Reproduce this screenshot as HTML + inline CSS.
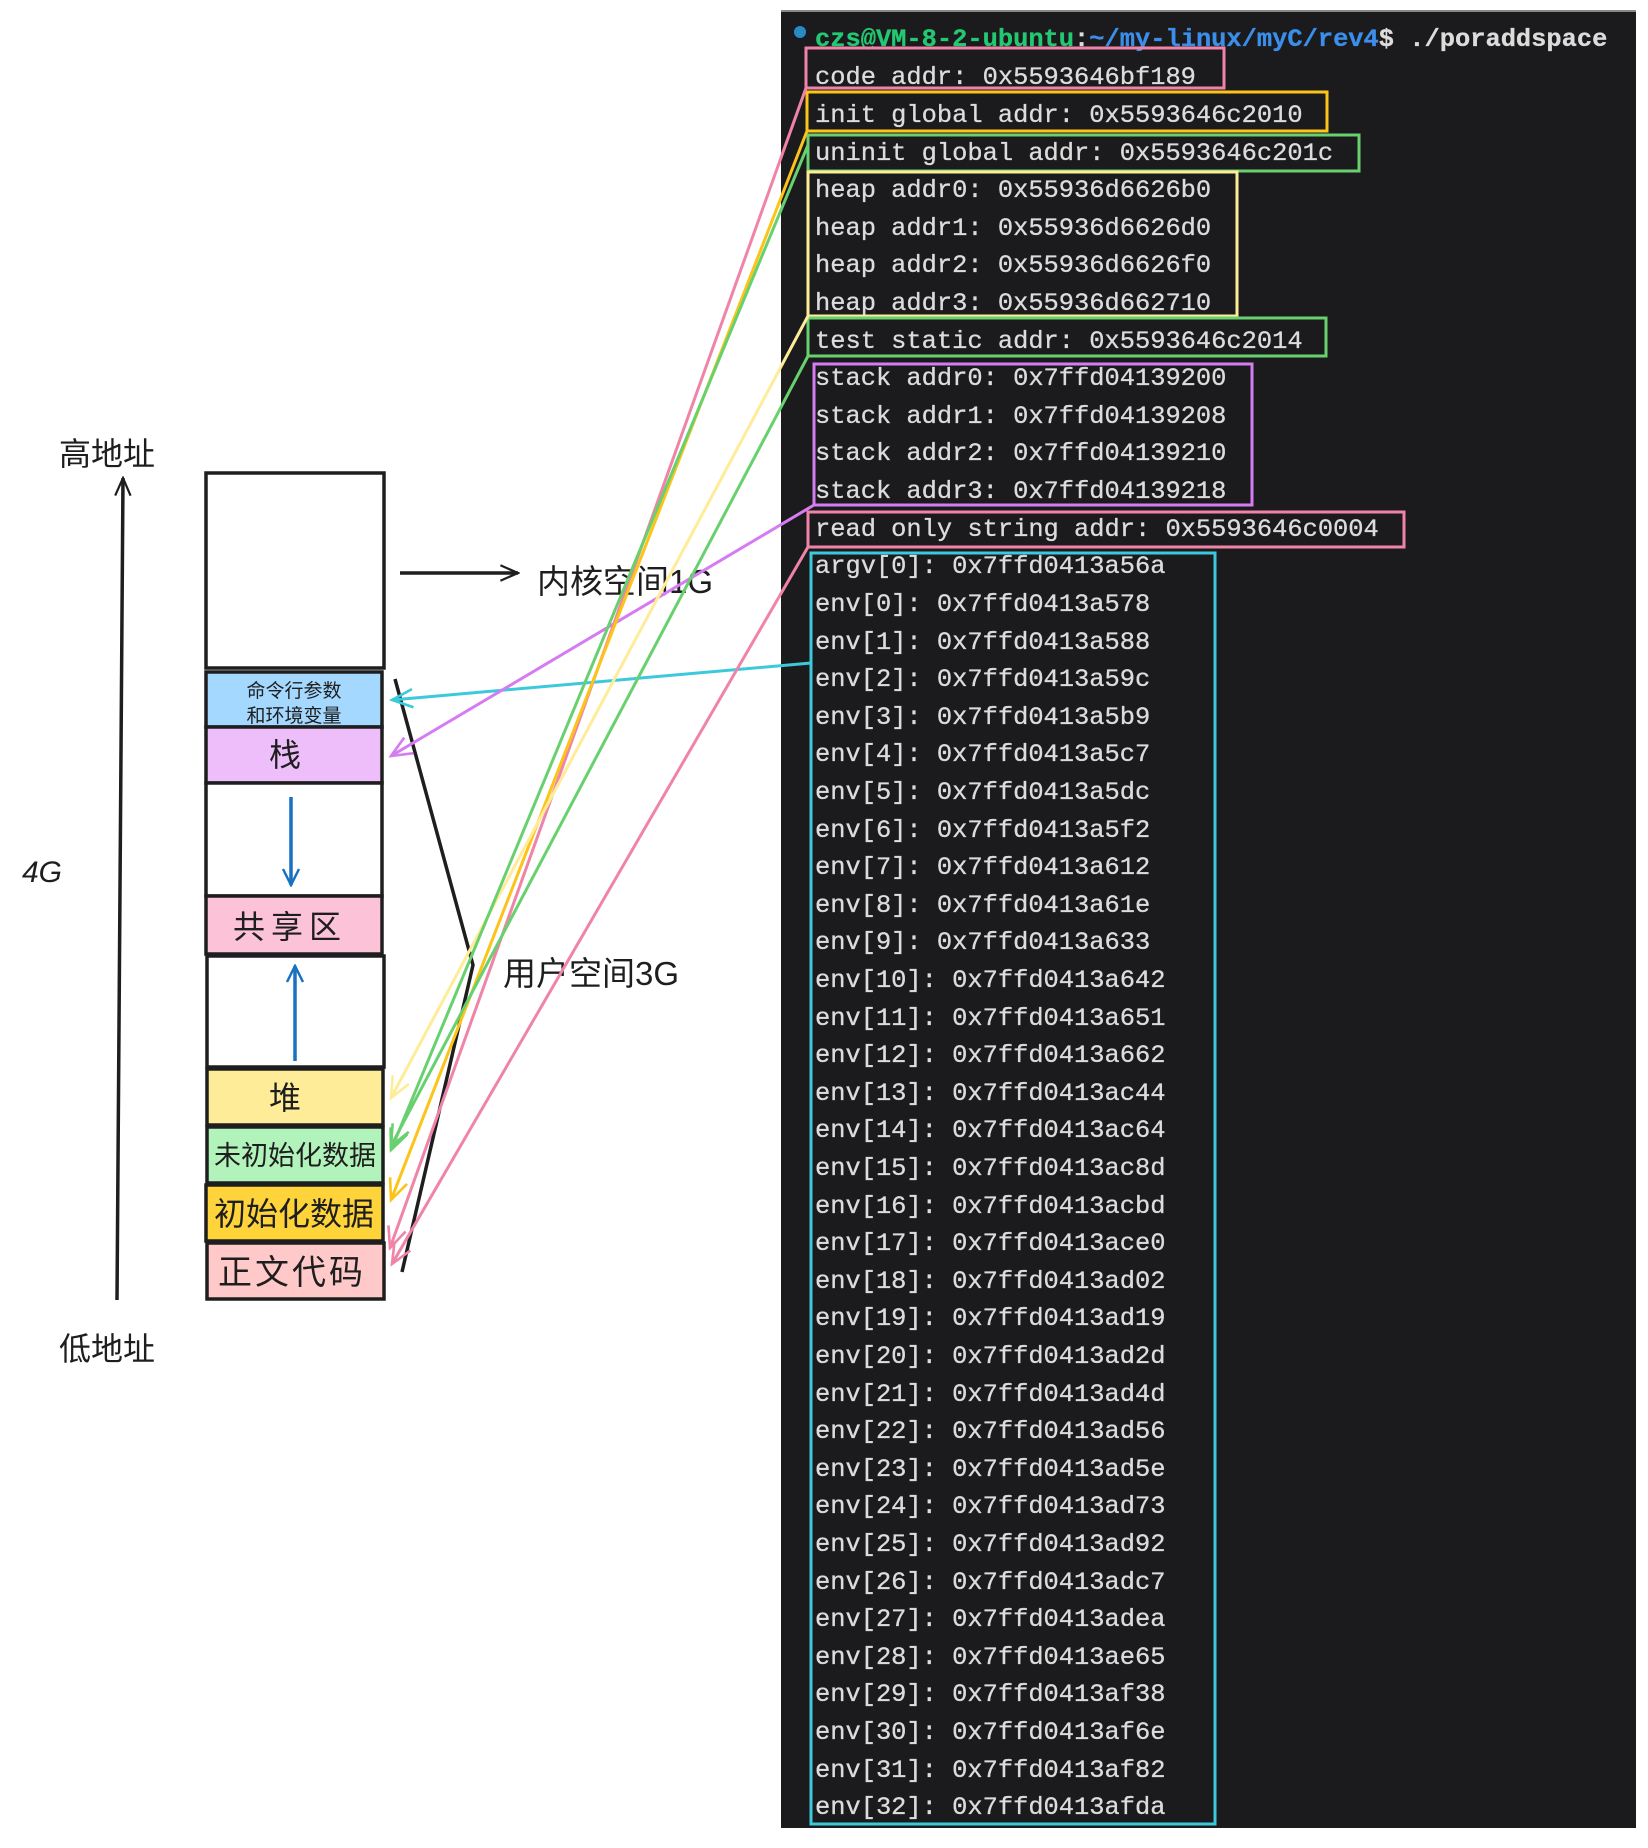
<!DOCTYPE html>
<html><head><meta charset="utf-8"><style>
html,body{margin:0;padding:0;background:#fff;}
svg{display:block;}
.cn{font-family:"Liberation Sans","Noto Sans CJK SC",sans-serif;fill:#1e1e1e;}
.mono{font-family:"Liberation Mono","DejaVu Sans Mono",monospace;font-size:25.4px;fill:#dcdcdc;stroke:#dcdcdc;stroke-width:0.3;}
</style></head><body>
<svg width="1648" height="1848" viewBox="0 0 1648 1848" xmlns="http://www.w3.org/2000/svg">
<defs>
<marker id="mk" viewBox="0 0 20 20" refX="18" refY="10" markerWidth="22" markerHeight="22" orient="auto" markerUnits="userSpaceOnUse"><path d="M2,3 L18,10 L2,17" fill="none" stroke="#1e1e1e" stroke-width="2"/></marker>
<marker id="mb" viewBox="0 0 20 20" refX="18" refY="10" markerWidth="20" markerHeight="20" orient="auto" markerUnits="userSpaceOnUse"><path d="M2,2 L18,10 L2,18" fill="none" stroke="#1971c2" stroke-width="2.5"/></marker>
<marker id="mc" viewBox="0 0 20 20" refX="18" refY="10" markerWidth="26" markerHeight="26" orient="auto" markerUnits="userSpaceOnUse"><path d="M2,3 L18,10 L2,17" fill="none" stroke="#3bc9db" stroke-width="2"/></marker>
<marker id="mp" viewBox="0 0 20 20" refX="18" refY="10" markerWidth="26" markerHeight="26" orient="auto" markerUnits="userSpaceOnUse"><path d="M2,3 L18,10 L2,17" fill="none" stroke="#d67cf2" stroke-width="2"/></marker>
<marker id="mk2" viewBox="0 0 20 20" refX="18" refY="10" markerWidth="26" markerHeight="26" orient="auto" markerUnits="userSpaceOnUse"><path d="M2,3 L18,10 L2,17" fill="none" stroke="#f084a8" stroke-width="2"/></marker>
<marker id="my" viewBox="0 0 20 20" refX="18" refY="10" markerWidth="26" markerHeight="26" orient="auto" markerUnits="userSpaceOnUse"><path d="M2,3 L18,10 L2,17" fill="none" stroke="#fcc419" stroke-width="2"/></marker>
<marker id="mly" viewBox="0 0 20 20" refX="18" refY="10" markerWidth="26" markerHeight="26" orient="auto" markerUnits="userSpaceOnUse"><path d="M2,3 L18,10 L2,17" fill="none" stroke="#ffec99" stroke-width="2"/></marker>
<marker id="mg" viewBox="0 0 20 20" refX="18" refY="10" markerWidth="26" markerHeight="26" orient="auto" markerUnits="userSpaceOnUse"><path d="M2,3 L18,10 L2,17" fill="none" stroke="#69d06f" stroke-width="2"/></marker>
</defs>

<rect x="781" y="11" width="855" height="1817" fill="#1b1b1d"/>
<line x1="781" y1="11" x2="1636" y2="11" stroke="#888" stroke-width="2"/>
<circle cx="800" cy="32" r="6" fill="#2a8ac4"/>
<text x="815" y="46" class="mono" style="font-weight:bold"><tspan fill="#23c872" stroke="#23c872">czs@VM-8-2-ubuntu</tspan><tspan>:</tspan><tspan fill="#3b8eea" stroke="#3b8eea">~/my-linux/myC/rev4</tspan><tspan>$ ./poraddspace</tspan></text>

<g class="mono">
<text x="815" y="84">code addr: 0x5593646bf189</text>
<text x="815" y="122">init global addr: 0x5593646c2010</text>
<text x="815" y="160">uninit global addr: 0x5593646c201c</text>
<text x="815" y="197">heap addr0: 0x55936d6626b0</text>
<text x="815" y="235">heap addr1: 0x55936d6626d0</text>
<text x="815" y="272">heap addr2: 0x55936d6626f0</text>
<text x="815" y="310">heap addr3: 0x55936d662710</text>
<text x="815" y="348">test static addr: 0x5593646c2014</text>
<text x="815" y="385">stack addr0: 0x7ffd04139200</text>
<text x="815" y="423">stack addr1: 0x7ffd04139208</text>
<text x="815" y="460">stack addr2: 0x7ffd04139210</text>
<text x="815" y="498">stack addr3: 0x7ffd04139218</text>
<text x="815" y="536">read only string addr: 0x5593646c0004</text>
<text x="815" y="573">argv[0]: 0x7ffd0413a56a</text>
<text x="815" y="611">env[0]: 0x7ffd0413a578</text>
<text x="815" y="649">env[1]: 0x7ffd0413a588</text>
<text x="815" y="686">env[2]: 0x7ffd0413a59c</text>
<text x="815" y="724">env[3]: 0x7ffd0413a5b9</text>
<text x="815" y="761">env[4]: 0x7ffd0413a5c7</text>
<text x="815" y="799">env[5]: 0x7ffd0413a5dc</text>
<text x="815" y="837">env[6]: 0x7ffd0413a5f2</text>
<text x="815" y="874">env[7]: 0x7ffd0413a612</text>
<text x="815" y="912">env[8]: 0x7ffd0413a61e</text>
<text x="815" y="949">env[9]: 0x7ffd0413a633</text>
<text x="815" y="987">env[10]: 0x7ffd0413a642</text>
<text x="815" y="1025">env[11]: 0x7ffd0413a651</text>
<text x="815" y="1062">env[12]: 0x7ffd0413a662</text>
<text x="815" y="1100">env[13]: 0x7ffd0413ac44</text>
<text x="815" y="1137">env[14]: 0x7ffd0413ac64</text>
<text x="815" y="1175">env[15]: 0x7ffd0413ac8d</text>
<text x="815" y="1213">env[16]: 0x7ffd0413acbd</text>
<text x="815" y="1250">env[17]: 0x7ffd0413ace0</text>
<text x="815" y="1288">env[18]: 0x7ffd0413ad02</text>
<text x="815" y="1325">env[19]: 0x7ffd0413ad19</text>
<text x="815" y="1363">env[20]: 0x7ffd0413ad2d</text>
<text x="815" y="1401">env[21]: 0x7ffd0413ad4d</text>
<text x="815" y="1438">env[22]: 0x7ffd0413ad56</text>
<text x="815" y="1476">env[23]: 0x7ffd0413ad5e</text>
<text x="815" y="1513">env[24]: 0x7ffd0413ad73</text>
<text x="815" y="1551">env[25]: 0x7ffd0413ad92</text>
<text x="815" y="1589">env[26]: 0x7ffd0413adc7</text>
<text x="815" y="1626">env[27]: 0x7ffd0413adea</text>
<text x="815" y="1664">env[28]: 0x7ffd0413ae65</text>
<text x="815" y="1701">env[29]: 0x7ffd0413af38</text>
<text x="815" y="1739">env[30]: 0x7ffd0413af6e</text>
<text x="815" y="1777">env[31]: 0x7ffd0413af82</text>
<text x="815" y="1814">env[32]: 0x7ffd0413afda</text>
</g>

<g fill="none" stroke-width="3">
<rect x="806" y="48" width="418" height="40" stroke="#f084a8"/>
<rect x="807" y="92" width="520" height="39" stroke="#fcc419"/>
<rect x="808" y="135" width="551" height="36" stroke="#69d06f"/>
<rect x="808" y="172" width="429" height="144" stroke="#ffec99"/>
<rect x="808" y="318" width="518" height="38" stroke="#69d06f"/>
<rect x="814" y="364" width="438" height="141" stroke="#d67cf2"/>
<rect x="808" y="512" width="596" height="35" stroke="#f084a8"/>
<path d="M811,553 H1215 V1824 H811 Z" stroke="#3bc9db"/>
</g>

<g stroke="#1e1e1e" stroke-width="3.5">
<rect x="206" y="473" width="178" height="195" fill="#fff"/>
<rect x="206" y="672" width="176" height="55" fill="#a5d8ff"/>
<rect x="206" y="727" width="176" height="56" fill="#eebefa"/>
<rect x="206" y="783" width="176" height="113" fill="#fff"/>
<rect x="206" y="896" width="176" height="58" fill="#fcc2d7"/>
<rect x="207" y="956" width="177" height="111" fill="#fff"/>
<rect x="207" y="1069" width="176" height="56" fill="#ffec99"/>
<rect x="207" y="1127" width="176" height="56" fill="#b2f2bb"/>
<rect x="206" y="1185" width="177" height="56" fill="#ffd43b"/>
<rect x="207" y="1243" width="177" height="56" fill="#ffc9c9"/>
</g>
<text x="294" y="697" class="cn" font-size="19" text-anchor="middle">命令行参数</text>
<text x="294" y="722" class="cn" font-size="19" text-anchor="middle">和环境变量</text>
<text x="285" y="766" class="cn" font-size="32" text-anchor="middle">栈</text>
<text x="290" y="938" class="cn" font-size="32" text-anchor="middle" letter-spacing="6">共享区</text>
<text x="285" y="1109" class="cn" font-size="32" text-anchor="middle">堆</text>
<text x="295" y="1165" class="cn" font-size="27" text-anchor="middle">未初始化数据</text>
<text x="294" y="1225" class="cn" font-size="32" text-anchor="middle">初始化数据</text>
<text x="292" y="1284" class="cn" font-size="34" text-anchor="middle" letter-spacing="3">正文代码</text>

<line x1="291" y1="797" x2="291" y2="885" stroke="#1971c2" stroke-width="3.5" marker-end="url(#mb)"/>
<line x1="295" y1="1061" x2="295" y2="966" stroke="#1971c2" stroke-width="3.5" marker-end="url(#mb)"/>

<line x1="117" y1="1300" x2="123" y2="478" stroke="#1e1e1e" stroke-width="3.5" marker-end="url(#mk)"/>
<text x="59" y="465" class="cn" font-size="32">高地址</text>
<text x="59" y="1360" class="cn" font-size="32">低地址</text>
<text x="22" y="882" class="cn" font-size="30" font-style="italic">4G</text>

<line x1="400" y1="573" x2="518" y2="573" stroke="#1e1e1e" stroke-width="3.5" marker-end="url(#mk)"/>
<text x="537" y="593" class="cn" font-size="33">内核空间1G</text>
<text x="503" y="985" class="cn" font-size="33">用户空间3G</text>

<polyline points="395,679 473,965 402,1272" fill="none" stroke="#1e1e1e" stroke-width="3.5"/>

<g fill="none" stroke-width="3">
<line x1="811" y1="663" x2="392" y2="700" stroke="#3bc9db" marker-end="url(#mc)"/>
<line x1="814" y1="505" x2="391" y2="756" stroke="#d67cf2" marker-end="url(#mp)"/>
<line x1="806" y1="88" x2="390" y2="1248" stroke="#f084a8" marker-end="url(#mk2)"/>
<line x1="808" y1="547" x2="392" y2="1264" stroke="#f084a8" marker-end="url(#mk2)"/>
<line x1="807" y1="131" x2="391" y2="1200" stroke="#fcc419" marker-end="url(#my)"/>
<line x1="808" y1="316" x2="391" y2="1098" stroke="#ffec99" marker-end="url(#mly)"/>
<line x1="808" y1="145" x2="391" y2="1150" stroke="#69d06f" marker-end="url(#mg)"/>
<line x1="808" y1="356" x2="391" y2="1146" stroke="#69d06f" marker-end="url(#mg)"/>
</g>
</svg>
</body></html>
